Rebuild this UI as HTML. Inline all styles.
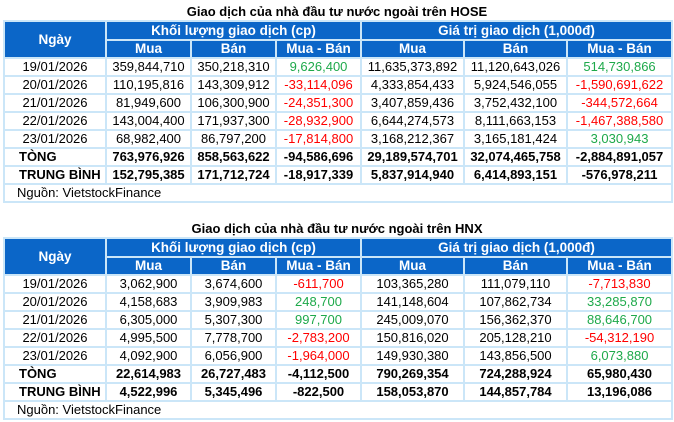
<!DOCTYPE html>
<html><head><meta charset="utf-8"><style>
body{margin:0;width:674px;height:422px;background:#fff;font-family:"Liberation Sans",Arial,sans-serif;font-size:13px;color:#000;position:relative;overflow:hidden}
.t{position:absolute;left:0;width:674px;text-align:center;font-weight:bold;font-size:13px}
table{position:absolute;left:3px;border-collapse:collapse;table-layout:fixed;width:668px}
td{border:2px solid #cbe6f8;padding:0;line-height:14px;text-align:center;white-space:nowrap;overflow:hidden;box-sizing:border-box}
tr{height:18px}
.h td{background:#0b66c8;color:#fff;font-weight:bold;font-size:13.5px}
.b td{font-weight:bold}
.l{text-align:left;padding-left:14px}
.g{color:#1ea94a}.r{color:#ff0000}
.src td{text-align:left;padding-left:12px}
</style></head><body>
<div class="t" style="top:4px">Giao dịch của nhà đầu tư nước ngoài trên HOSE</div>
<table style="top:20px">
<colgroup><col style="width:102px"><col style="width:85px"><col style="width:85px"><col style="width:85px"><col style="width:103px"><col style="width:103px"><col style="width:105px"></colgroup>
<tr class="h" style="height:19px"><td rowspan="2">Ngày</td><td colspan="3">Khối lượng giao dịch (cp)</td><td colspan="3">Giá trị giao dịch (1,000đ)</td></tr>
<tr class="h"><td>Mua</td><td>Bán</td><td>Mua - Bán</td><td>Mua</td><td>Bán</td><td>Mua - Bán</td></tr>
<tr><td>19/01/2026</td><td>359,844,710</td><td>350,218,310</td><td class="g">9,626,400</td><td>11,635,373,892</td><td>11,120,643,026</td><td class="g">514,730,866</td></tr>
<tr><td>20/01/2026</td><td>110,195,816</td><td>143,309,912</td><td class="r">-33,114,096</td><td>4,333,854,433</td><td>5,924,546,055</td><td class="r">-1,590,691,622</td></tr>
<tr><td>21/01/2026</td><td>81,949,600</td><td>106,300,900</td><td class="r">-24,351,300</td><td>3,407,859,436</td><td>3,752,432,100</td><td class="r">-344,572,664</td></tr>
<tr><td>22/01/2026</td><td>143,004,400</td><td>171,937,300</td><td class="r">-28,932,900</td><td>6,644,274,573</td><td>8,111,663,153</td><td class="r">-1,467,388,580</td></tr>
<tr><td>23/01/2026</td><td>68,982,400</td><td>86,797,200</td><td class="r">-17,814,800</td><td>3,168,212,367</td><td>3,165,181,424</td><td class="g">3,030,943</td></tr>
<tr class="b"><td class="l">TÒNG</td><td>763,976,926</td><td>858,563,622</td><td>-94,586,696</td><td>29,189,574,701</td><td>32,074,465,758</td><td>-2,884,891,057</td></tr>
<tr class="b"><td class="l">TRUNG BÌNH</td><td>152,795,385</td><td>171,712,724</td><td>-18,917,339</td><td>5,837,914,940</td><td>6,414,893,151</td><td>-576,978,211</td></tr>
<tr class="src"><td colspan="7">Nguồn: VietstockFinance</td></tr>
</table>
<div class="t" style="top:221px">Giao dịch của nhà đầu tư nước ngoài trên HNX</div>
<table style="top:237px">
<colgroup><col style="width:102px"><col style="width:85px"><col style="width:85px"><col style="width:85px"><col style="width:103px"><col style="width:103px"><col style="width:105px"></colgroup>
<tr class="h" style="height:19px"><td rowspan="2">Ngày</td><td colspan="3">Khối lượng giao dịch (cp)</td><td colspan="3">Giá trị giao dịch (1,000đ)</td></tr>
<tr class="h"><td>Mua</td><td>Bán</td><td>Mua - Bán</td><td>Mua</td><td>Bán</td><td>Mua - Bán</td></tr>
<tr><td>19/01/2026</td><td>3,062,900</td><td>3,674,600</td><td class="r">-611,700</td><td>103,365,280</td><td>111,079,110</td><td class="r">-7,713,830</td></tr>
<tr><td>20/01/2026</td><td>4,158,683</td><td>3,909,983</td><td class="g">248,700</td><td>141,148,604</td><td>107,862,734</td><td class="g">33,285,870</td></tr>
<tr><td>21/01/2026</td><td>6,305,000</td><td>5,307,300</td><td class="g">997,700</td><td>245,009,070</td><td>156,362,370</td><td class="g">88,646,700</td></tr>
<tr><td>22/01/2026</td><td>4,995,500</td><td>7,778,700</td><td class="r">-2,783,200</td><td>150,816,020</td><td>205,128,210</td><td class="r">-54,312,190</td></tr>
<tr><td>23/01/2026</td><td>4,092,900</td><td>6,056,900</td><td class="r">-1,964,000</td><td>149,930,380</td><td>143,856,500</td><td class="g">6,073,880</td></tr>
<tr class="b"><td class="l">TÒNG</td><td>22,614,983</td><td>26,727,483</td><td>-4,112,500</td><td>790,269,354</td><td>724,288,924</td><td>65,980,430</td></tr>
<tr class="b"><td class="l">TRUNG BÌNH</td><td>4,522,996</td><td>5,345,496</td><td>-822,500</td><td>158,053,870</td><td>144,857,784</td><td>13,196,086</td></tr>
<tr class="src"><td colspan="7">Nguồn: VietstockFinance</td></tr>
</table>
</body></html>
